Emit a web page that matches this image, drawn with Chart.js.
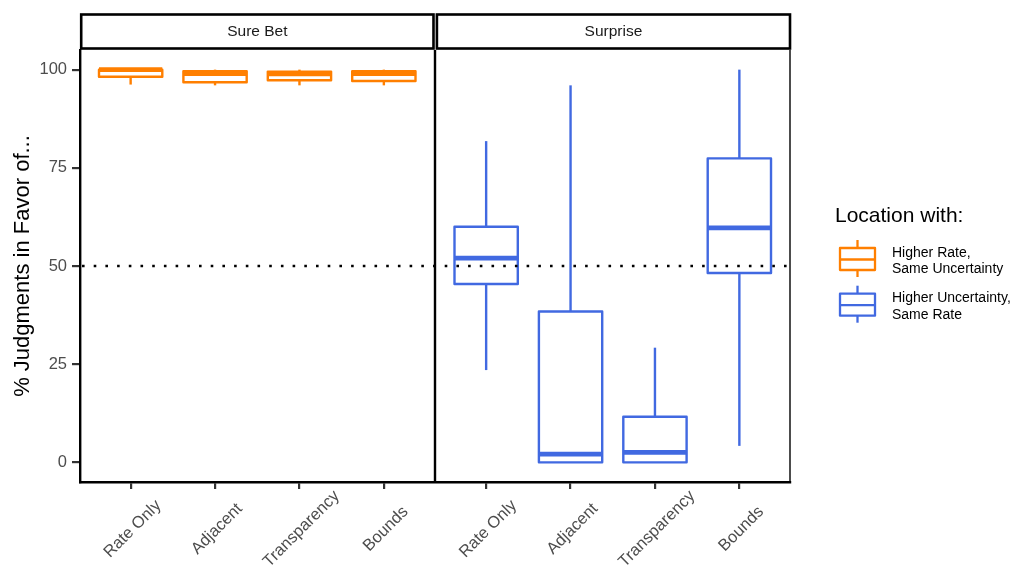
<!DOCTYPE html>
<html>
<head>
<meta charset="utf-8">
<script src="https://cdn.jsdelivr.net/npm/chart.js@4.4.1/dist/chart.umd.min.js"></script>
<style>
  html, body { margin: 0; padding: 0; background: #ffffff; }
  #wrap { width: 1029px; height: 567px; position: relative; }
  canvas { display: block; }
</style>
</head>
<body>
<div id="wrap"><canvas id="chart" width="1029" height="567"></canvas></div>
<script>
// Facets and conditions
const panels = ['Sure Bet', 'Surprise'];
const categories = ['Rate Only', 'Adjacent', 'Transparency', 'Bounds'];
const yTicks = [0, 25, 50, 75, 100];
const chanceLevel = 50;

// Five-number summaries (% judgments), "Sure Bet" facet
const sureBetMin    = [96.2, 96.0, 96.0, 96.0];
const sureBetQ1     = [98.2, 96.8, 97.3, 97.1];
const sureBetMedian = [100,  99.0, 98.9, 99.0];
const sureBetQ3     = [100,  99.6, 99.5, 99.6];
const sureBetMax    = [100,  100,  100,  100];

// Five-number summaries (% judgments), "Surprise" facet
const surpriseMin    = [23.5, 0,    0,    4.2];
const surpriseQ1     = [45.4, 0,    0,    48.2];
const surpriseMedian = [52.0, 2.1,  2.55, 59.7];
const surpriseQ3     = [60.0, 38.4, 11.6, 77.4];
const surpriseMax    = [81.8, 96.0, 29.2, 100];

const legendTitle = 'Location with:';
const seriesNames = [['Higher Rate,', 'Same Uncertainty'], ['Higher Uncertainty,', 'Same Rate']];
const seriesColors = ['#FF7F00', '#4169E1'];

const FONT = "'Liberation Sans', Arial, Helvetica, sans-serif";
const TICK_COLOR = '#4D4D4D';

// Horizontal layout of the two facets on one linear axis (category units)
const panelSpan = categories.length + 0.2;   // 0.6 padding on each side
const panelGap = 0.012;
function catPos(panel, i) { return panel * (panelSpan + panelGap) + i; }
function panelLeft(panel) { return catPos(panel, 0) - 0.6; }
function panelRight(panel) { return panelLeft(panel) + panelSpan; }

const series = [
  { min: sureBetMin, q1: sureBetQ1, med: sureBetMedian, q3: sureBetQ3, max: sureBetMax },
  { min: surpriseMin, q1: surpriseQ1, med: surpriseMedian, q3: surpriseQ3, max: surpriseMax }
];

const datasets = series.map((s, p) => ({
  label: seriesNames[p].join(' '),
  data: categories.map((c, i) => ({ x: catPos(p, i), y: [s.q1[i], s.q3[i]] })),
  backgroundColor: '#ffffff',
  borderWidth: 0,
  grouped: false,
  barPercentage: 0.75,
  categoryPercentage: 1
}));

const tickPositions = [];
panels.forEach((p, pi) => categories.forEach((c, i) => tickPositions.push(catPos(pi, i))));

function line(ctx, x1, y1, x2, y2) {
  ctx.beginPath(); ctx.moveTo(x1, y1); ctx.lineTo(x2, y2); ctx.stroke();
}

const boxplotPlugin = {
  id: 'boxplot',
  afterDatasetsDraw(chart) {
    const { ctx, scales: { x, y }, chartArea } = chart;
    ctx.save();
    series.forEach((s, d) => {
      const meta = chart.getDatasetMeta(d);
      meta.data.forEach((bar, i) => {
        const { x: cx, width } = bar.getProps(['x', 'width'], true);
        const half = width / 2;
        const yMin = y.getPixelForValue(s.min[i]);
        const yQ1 = y.getPixelForValue(s.q1[i]);
        const yMed = y.getPixelForValue(s.med[i]);
        const yQ3 = y.getPixelForValue(s.q3[i]);
        const yMax = y.getPixelForValue(s.max[i]);
        ctx.strokeStyle = seriesColors[d];
        ctx.lineCap = 'butt';
        ctx.lineJoin = 'round';
        ctx.lineWidth = 2.4;
        // whiskers
        if (yMax < yQ3) line(ctx, cx, yQ3, cx, yMax);
        if (yMin > yQ1) line(ctx, cx, yQ1, cx, yMin);
        // box
        ctx.strokeRect(cx - half, yQ3, width, yQ1 - yQ3);
        // median
        ctx.lineWidth = 4.7;
        line(ctx, cx - half, yMed, cx + half, yMed);
      });
    });
    // dotted chance line
    const y50 = y.getPixelForValue(chanceLevel);
    ctx.strokeStyle = '#000000';
    ctx.lineWidth = 2.6;
    ctx.setLineDash([2.6, 9.1]);
    line(ctx, chartArea.left + 2, y50, chartArea.right, y50);
    ctx.restore();
  },
  afterDraw(chart) {
    const { ctx, scales: { x, y }, chartArea } = chart;
    ctx.save();
    // panel borders
    ctx.strokeStyle = '#000000';
    ctx.lineWidth = 1.4;
    [panelRight(0), panelLeft(1), panelRight(1)].forEach(v => {
      const px = x.getPixelForValue(v);
      line(ctx, px, chartArea.top, px, chartArea.bottom);
    });
    // facet strips
    const stripTop = chartArea.top - 35.5;
    const stripBottom = chartArea.top - 1.5;
    panels.forEach((name, p) => {
      const l = x.getPixelForValue(panelLeft(p)) + (p === 0 ? 1.2 : 1.4);
      const r = x.getPixelForValue(panelRight(p)) - (p === 0 ? 1 : 0);
      ctx.fillStyle = '#ffffff';
      ctx.fillRect(l, stripTop, r - l, stripBottom - stripTop);
      ctx.strokeStyle = '#000000';
      ctx.lineWidth = 2.6;
      ctx.lineJoin = 'miter';
      ctx.strokeRect(l, stripTop, r - l, stripBottom - stripTop);
      ctx.fillStyle = '#1A1A1A';
      ctx.font = '15.5px ' + FONT;
      ctx.textAlign = 'center';
      ctx.textBaseline = 'middle';
      ctx.fillText(name, (l + r) / 2, (stripTop + stripBottom) / 2 + 0.5);
    });
    // rotated category labels
    ctx.fillStyle = TICK_COLOR;
    ctx.font = '16.5px ' + FONT;
    ctx.textAlign = 'center';
    ctx.textBaseline = 'middle';
    panels.forEach((name, p) => {
      categories.forEach((c, i) => {
        const px = x.getPixelForValue(catPos(p, i));
        ctx.save();
        ctx.translate(px + 2, chartArea.bottom + 47);
        ctx.rotate(-Math.PI / 4);
        ctx.fillText(c, 0, 0);
        ctx.restore();
      });
    });
    // legend
    const lx = chartArea.right + 45;
    ctx.fillStyle = '#000000';
    ctx.textAlign = 'left';
    ctx.textBaseline = 'alphabetic';
    ctx.font = '21px ' + FONT;
    ctx.fillText(legendTitle, lx, 222);
    const keyTops = [240, 285.7];
    keyTops.forEach((top, k) => {
      const kx = lx + 22.5;
      ctx.strokeStyle = seriesColors[k];
      ctx.lineWidth = 2.3;
      ctx.lineJoin = 'round';
      line(ctx, kx, top, kx, top + 37);
      ctx.fillStyle = '#ffffff';
      ctx.fillRect(kx - 17.5, top + 8, 35, 22);
      ctx.strokeRect(kx - 17.5, top + 8, 35, 22);
      line(ctx, kx - 17.5, top + 19.5, kx + 17.5, top + 19.5);
      ctx.fillStyle = '#000000';
      ctx.font = '14px ' + FONT;
      ctx.fillText(seriesNames[k][0], lx + 57, top + 16.5);
      ctx.fillText(seriesNames[k][1], lx + 57, top + 33);
    });
    ctx.restore();
  }
};

new Chart(document.getElementById('chart'), {
  type: 'bar',
  data: { datasets },
  options: {
    responsive: false,
    animation: false,
    events: [],
    layout: { padding: { top: 50, right: 239, bottom: 0, left: 0 } },
    plugins: { legend: { display: false }, tooltip: { enabled: false } },
    scales: {
      x: {
        type: 'linear',
        offset: false,
        min: panelLeft(0),
        max: panelRight(1),
        afterBuildTicks: s => { s.ticks = tickPositions.map(v => ({ value: v })); },
        afterFit: s => { s.height = 85; },
        ticks: { display: false },
        grid: { drawOnChartArea: false, drawTicks: true, tickLength: 7, color: '#333333', lineWidth: 2.2, offset: false },
        border: { display: true, color: '#000000', width: 2.4 }
      },
      y: {
        type: 'linear',
        min: -5,
        max: 105,
        afterBuildTicks: s => { s.ticks = yTicks.map(v => ({ value: v })); },
        afterFit: s => { s.width = 80; },
        ticks: { color: TICK_COLOR, font: { family: FONT, size: 16.5 }, padding: 5 },
        grid: { drawOnChartArea: false, drawTicks: true, tickLength: 8, color: '#333333', lineWidth: 2.2 },
        border: { display: true, color: '#000000', width: 2.4 },
        title: {
          display: true,
          text: '% Judgments in Favor of...',
          color: '#000000',
          font: { family: FONT, size: 22 },
          padding: { top: 10, bottom: 0 }
        }
      }
    }
  },
  plugins: [boxplotPlugin]
});
</script>
</body>
</html>
